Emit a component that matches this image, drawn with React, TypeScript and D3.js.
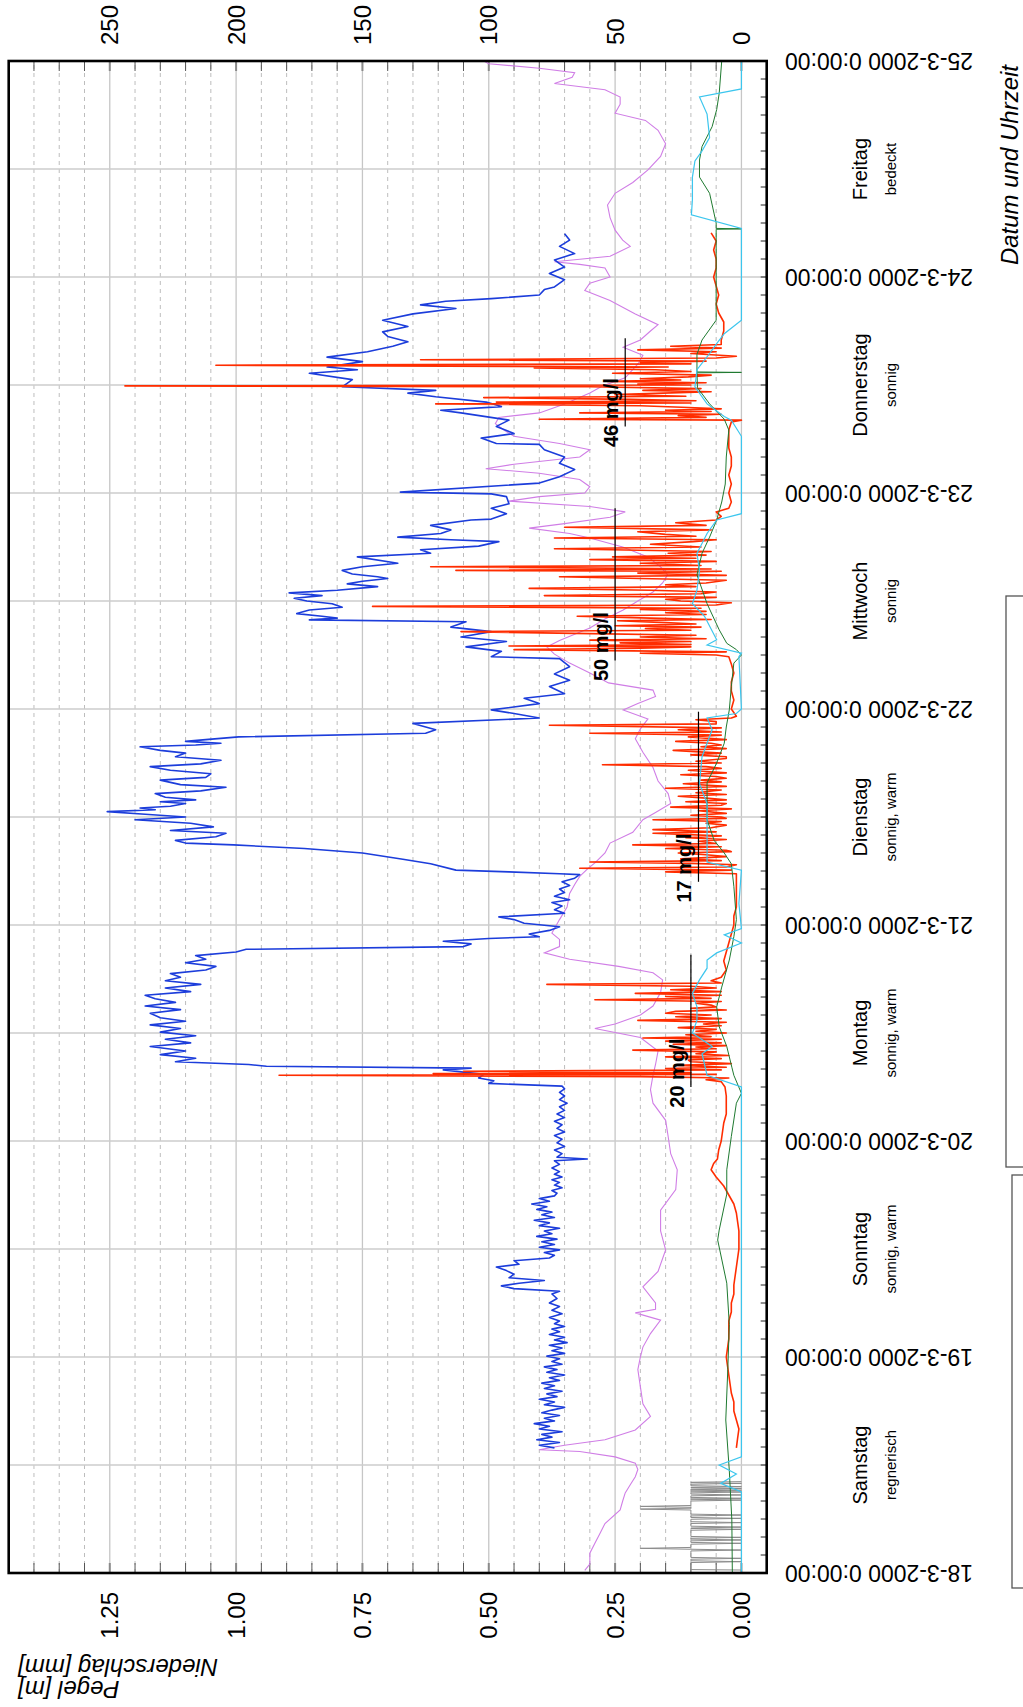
import React from "react";
import * as d3 from "d3";

// ---------- DATA (time in hours since 18-3-2000 0:00) ----------
const dateLabels = [
  "18-3-2000 0:00:00", "19-3-2000 0:00:00", "20-3-2000 0:00:00", "21-3-2000 0:00:00",
  "22-3-2000 0:00:00", "23-3-2000 0:00:00", "24-3-2000 0:00:00", "25-3-2000 0:00:00",
];
const dayNames = ["Samstag", "Sonntag", "Montag", "Dienstag", "Mittwoch", "Donnerstag", "Freitag"];
const dayWeather = ["regnerisch", "sonnig, warm", "sonnig, warm", "sonnig, warm", "sonnig", "sonnig", "bedeckt"];

const pegelTicks = [0, 0.25, 0.5, 0.75, 1.0, 1.25];
const pegelTickLabels = ["0.00", "0.25", "0.50", "0.75", "1.00", "1.25"];
const mglTicks = [0, 50, 100, 150, 200, 250];
const mglTickLabels = ["0", "50", "100", "150", "200", "250"];

// mean annotations (mg/l)
const annotValues = [20, 17, 50, 46];
const annotStart = [54.0, 76.8, 101.4, 127.4];
const annotEnd = [68.7, 95.7, 118.3, 137.2];

// Niederschlag [mm]
const rain: number[][] = [
  [0.33, 0], [0.38, 0.1], [1.16, 0.1], [1.26, 0], [1.36, 0.1], [1.53, 0.1], [1.63, 0], [1.73, 0.1],
  [2.45, 0.1], [2.55, 0], [2.64, 0.1], [2.74, 0.2], [2.84, 0.1], [3.2, 0.1], [3.3, 0], [3.4, 0.1],
  [3.57, 0.1], [3.67, 0], [3.77, 0.1], [3.86, 0.1], [3.96, 0], [4.06, 0.1], [4.75, 0.1], [4.85, 0],
  [4.95, 0.1], [5.0, 0.1], [5.1, 0], [5.2, 0.1], [5.5, 0.1], [5.6, 0], [5.7, 0.1], [5.97, 0.1],
  [6.07, 0], [6.17, 0.1], [6.34, 0.1], [6.44, 0], [6.54, 0.1], [7.0, 0.1], [7.1, 0.2], [7.2, 0.1],
  [7.3, 0.1], [7.4, 0.2], [7.5, 0.1], [8.0, 0.1], [8.1, 0], [8.2, 0.1], [8.22, 0.1], [8.3, 0],
  [8.4, 0.1], [8.57, 0.1], [8.67, 0], [8.77, 0.1], [8.9, 0.1], [9.0, 0], [9.1, 0.1], [9.12, 0.1],
  [9.2, 0], [9.3, 0.1], [9.32, 0.1], [9.4, 0], [9.5, 0.1], [9.52, 0.1], [9.6, 0], [9.7, 0.1],
  [9.86, 0.1], [9.96, 0], [10.04, 0.1], [10.08, 0.1], [10.15, 0],
];

// Pegel [m] (violet)
const pegel: number[][] = [
  [0.3, 0.31], [1.0, 0.30], [2.2, 0.30], [3.3, 0.29], [4.4, 0.28], [5.5, 0.27], [7.0, 0.24], [8.0, 0.235],
  [8.9, 0.23], [9.8, 0.22], [10.7, 0.21], [11.5, 0.205], [12.2, 0.21], [12.9, 0.25], [13.5, 0.32], [13.7, 0.40],
  [14.0, 0.37], [14.2, 0.35], [14.8, 0.27], [15.9, 0.21], [17.4, 0.18], [18.8, 0.195], [20.7, 0.20], [22.6, 0.205],
  [24.0, 0.20], [25.1, 0.195], [26.6, 0.18], [28.1, 0.16], [28.9, 0.21], [29.3, 0.17], [30.0, 0.17], [31.8, 0.195],
  [33.5, 0.165], [35.9, 0.15], [38.0, 0.16], [40.3, 0.16], [42.6, 0.13], [44.8, 0.127], [46.6, 0.14], [48.5, 0.145],
  [50.3, 0.15], [52.2, 0.175], [53.7, 0.18], [55.3, 0.175], [56.5, 0.17], [58.0, 0.165], [59.5, 0.20], [60.5, 0.29],
  [61.0, 0.25], [62.0, 0.20], [63.0, 0.175], [64.5, 0.16], [65.9, 0.156], [66.7, 0.175], [67.4, 0.243], [68.2, 0.34],
  [68.9, 0.39], [69.6, 0.36], [70.4, 0.36], [71.1, 0.375], [72.6, 0.36], [74.0, 0.345], [75.5, 0.34], [76.5, 0.33],
  [77.4, 0.32], [78.2, 0.305], [78.9, 0.29], [80.0, 0.27], [81.1, 0.26], [82.3, 0.215], [83.7, 0.195], [84.5, 0.17],
  [85.5, 0.14], [86.6, 0.145], [88.0, 0.165], [89.5, 0.175], [91.2, 0.195], [92.7, 0.21], [93.8, 0.20], [94.9, 0.185],
  [95.9, 0.234], [96.6, 0.205], [97.4, 0.17], [98.1, 0.175], [98.9, 0.263], [100.0, 0.30], [101.1, 0.34], [102.1, 0.37],
  [102.9, 0.385], [103.6, 0.36], [105.0, 0.30], [106.0, 0.27], [107.0, 0.234], [108.0, 0.205], [109.0, 0.175], [110.0, 0.156],
  [110.9, 0.146], [111.8, 0.16], [112.9, 0.185], [114.0, 0.235], [115.0, 0.30], [115.5, 0.34], [116.1, 0.42], [116.6, 0.35],
  [117.3, 0.26], [117.9, 0.23], [118.5, 0.30], [119.1, 0.46], [119.6, 0.40], [120.0, 0.31], [120.7, 0.30], [121.5, 0.32],
  [122.2, 0.40], [122.7, 0.506], [123.2, 0.45], [124.0, 0.32], [124.8, 0.30], [125.5, 0.36], [126.3, 0.45], [127.0, 0.47],
  [127.7, 0.487], [128.4, 0.48], [128.9, 0.40], [129.9, 0.35], [131.1, 0.30], [131.9, 0.275], [132.8, 0.23], [134.4, 0.204],
  [135.3, 0.195], [136.2, 0.234], [137.0, 0.20], [138.0, 0.18], [138.7, 0.165], [139.9, 0.21], [141.4, 0.26], [142.5, 0.31],
  [143.3, 0.30], [144.0, 0.26], [145.0, 0.27], [145.4, 0.32], [145.7, 0.37], [146.3, 0.26], [147.4, 0.22], [148.1, 0.235],
  [149.2, 0.25], [150.6, 0.26], [152.0, 0.265], [153.3, 0.25], [154.5, 0.215], [155.9, 0.185], [157.4, 0.16], [158.8, 0.15],
  [160.3, 0.165], [161.4, 0.19], [162.2, 0.25], [163.2, 0.24], [164.0, 0.24], [164.8, 0.27], [165.5, 0.37], [166.2, 0.335],
  [166.7, 0.33], [167.2, 0.40], [167.7, 0.50], [168.0, 0.51],
];

// green series [m]
const green: number[][] = [
  [0, 0.018], [5.9, 0.019], [11.4, 0.024], [17.0, 0.031], [22.6, 0.027], [27.6, 0.024], [32.2, 0.029], [37.0, 0.047],
  [38.1, 0.044], [42.1, 0.029], [44.8, 0.029], [48.5, 0.02], [52.2, 0.01], [53.3, 0.0], [55.3, 0.015], [56.2, 0.019],
  [58.5, 0.029], [60.7, 0.044], [62.9, 0.049], [65.1, 0.039], [68.1, 0.024], [70.7, 0.015], [72.6, 0.01], [76.3, 0.015],
  [78.8, 0.02], [80.0, 0.034], [81.4, 0.054], [83.7, 0.068], [85.5, 0.068], [87.8, 0.068], [90.0, 0.049], [92.2, 0.034],
  [94.0, 0.03], [95.9, 0.024], [98.5, 0.02], [101.1, 0.015], [102.0, 0.0], [102.6, 0.01], [103.3, 0.029], [104.8, 0.044],
  [107.7, 0.068], [110.9, 0.088], [113.3, 0.078], [115.1, 0.063], [117.0, 0.049], [119.0, 0.039], [121.0, 0.032], [124.0, 0.03],
  [127.0, 0.025], [128.2, 0.034], [129.9, 0.063], [131.7, 0.087], [133.35, 0.088], [133.4, 0.0], [133.45, 0.088], [135.4, 0.088],
  [137.0, 0.078], [139.2, 0.05], [144.0, 0.05], [149.3, 0.05], [149.35, 0.0], [149.4, 0.05], [150.0, 0.05], [153.3, 0.063],
  [155.1, 0.083], [157.0, 0.083], [158.5, 0.078], [160.7, 0.058], [162.6, 0.049], [164.4, 0.044], [168.0, 0.039],
];

// cyan series [m]
const cyan: number[][] = [
  [0, 0], [9.0, 0], [9.96, 0.041], [10.99, 0.01], [12.0, 0.044], [12.9, 0], [54.0, 0], [55.3, 0.068], [57.7, 0.078],
  [58.5, 0.058], [60.0, 0.097], [61.4, 0.088], [62.9, 0.088], [64.4, 0.097], [65.9, 0.083], [67.2, 0.068], [68.1, 0.068],
  [68.9, 0.049], [70.0, 0], [70.9, 0.034], [71.6, 0], [74.4, 0.005], [78.1, 0], [79.0, 0.068], [83.7, 0.068], [85.5, 0.068],
  [87.7, 0.083], [90.7, 0.078], [93.7, 0.058], [95.0, 0.068], [95.5, 0.01], [96.0, 0], [101.8, 0.005], [102.2, 0],
  [103.1, 0.068], [103.7, 0.049], [106.3, 0.073], [107.7, 0.097], [109.2, 0.088], [111.4, 0.083], [113.3, 0.088], [115.5, 0.068],
  [117.0, 0.049], [117.7, 0], [126.3, 0], [128.1, 0.02], [128.5, 0.034], [129.9, 0.068], [131.8, 0.092], [133.7, 0.088],
  [135.5, 0.063], [136.6, 0.049], [137.7, 0.034], [139.2, 0], [149.4, 0], [150.9, 0.099], [152.6, 0.097], [155.1, 0.097],
  [156.9, 0.092], [158.0, 0.078], [159.5, 0.063], [162.1, 0.068], [164.0, 0.083], [164.9, 0], [168.0, 0],
];

// blue series [mg/l scale]
const blue: number[][] = [
  [13.9, 74], [14.2, 80], [14.5, 72], [14.8, 81], [15.1, 75], [15.4, 79], [15.7, 71], [16.0, 80], [16.3, 76], [16.6, 82],
  [16.9, 74], [17.2, 78], [17.5, 72], [17.8, 79], [18.1, 75], [18.4, 70], [18.7, 78], [19.0, 74], [19.3, 80], [19.6, 73],
  [19.9, 77], [20.2, 71], [20.5, 78], [20.8, 74], [21.1, 79], [21.4, 72], [21.7, 76], [22.0, 70], [22.3, 77], [22.6, 73],
  [22.9, 78], [23.2, 71], [23.5, 75], [23.8, 72], [24.1, 77], [24.4, 70], [24.7, 75], [25.0, 71], [25.3, 76], [25.6, 69],
  [25.9, 74], [26.2, 70], [26.5, 76], [26.8, 72], [27.1, 75], [27.4, 70], [27.7, 74], [28.0, 72], [28.4, 76], [28.8, 71],
  [29.2, 75], [29.6, 72], [30.0, 76], [30.5, 73], [31.0, 75], [31.3, 72], [31.6, 90], [31.9, 95], [32.2, 88], [32.5, 78],
  [32.8, 92], [33.2, 90], [33.6, 93], [34.0, 97], [34.3, 88], [34.7, 90], [35.0, 76], [35.3, 74], [35.6, 78], [35.9, 72],
  [36.2, 80], [36.5, 74], [36.8, 79], [37.1, 73], [37.4, 81], [37.7, 75], [38.0, 78], [38.3, 72], [38.6, 80], [38.9, 76],
  [39.2, 82], [39.5, 74], [39.8, 79], [40.1, 75], [40.4, 81], [40.7, 77], [41.0, 83], [41.3, 76], [41.6, 80], [41.9, 74],
  [42.2, 73], [42.5, 75], [42.8, 71], [43.1, 74], [43.4, 72], [43.7, 75], [44.0, 71], [44.3, 74], [44.6, 72], [45.0, 75],
  [45.4, 72], [45.8, 74], [46.0, 61], [46.2, 73], [46.6, 71], [47.0, 74], [47.4, 70], [47.8, 73], [48.2, 71], [48.6, 74],
  [49.0, 70], [49.4, 73], [49.8, 71], [50.2, 74], [50.6, 70], [51.0, 73], [51.4, 70], [51.8, 72], [52.2, 69], [52.6, 72],
  [53.0, 70], [53.4, 72], [53.8, 70], [54.1, 71], [54.4, 100], [54.7, 98], [55.0, 104], [55.4, 102], [55.9, 118], [56.1, 107],
  [56.3, 188], [56.5, 195], [56.8, 224], [57.2, 216], [57.6, 230], [58.0, 220], [58.5, 234], [58.9, 218], [59.3, 228], [59.7, 216],
  [60.1, 230], [60.5, 222], [60.9, 234], [61.3, 220], [61.7, 230], [62.2, 234], [62.6, 222], [63.0, 236], [63.4, 224], [63.8, 232],
  [64.2, 236], [64.6, 218], [65.0, 228], [65.4, 214], [65.8, 228], [66.2, 222], [66.6, 226], [67.0, 212], [67.4, 208], [67.8, 220],
  [68.2, 212], [68.6, 216], [69.0, 200], [69.3, 196], [69.6, 110], [69.9, 107], [70.2, 118], [70.5, 100], [70.7, 80], [71.0, 84],
  [71.4, 76], [71.8, 72], [72.2, 86], [72.6, 90], [72.9, 96], [73.3, 70], [73.7, 74], [74.1, 71], [74.5, 75], [74.8, 68],
  [75.2, 74], [75.6, 70], [76.0, 72], [76.4, 68], [76.8, 71], [77.2, 66], [77.6, 64], [77.7, 72], [77.9, 92], [78.1, 113],
  [78.8, 123], [79.3, 134], [80.0, 150], [80.5, 173], [80.9, 201], [81.1, 220], [81.4, 224], [81.8, 208], [82.2, 204], [82.5, 226],
  [82.9, 209], [83.3, 218], [83.7, 240], [84.0, 220], [84.3, 236], [84.6, 251], [84.8, 232], [85.0, 238], [85.2, 226], [85.5, 220],
  [85.7, 230], [85.9, 216], [86.2, 228], [86.6, 232], [86.9, 214], [87.3, 204], [87.6, 222], [88.1, 230], [88.4, 212], [88.8, 210],
  [89.2, 226], [89.6, 234], [89.9, 214], [90.3, 206], [90.7, 224], [91.1, 220], [91.4, 230], [91.8, 238], [92.0, 216], [92.2, 206],
  [92.4, 220], [92.6, 212], [92.9, 199], [93.3, 125], [93.7, 121], [94.4, 130], [95.0, 80], [95.5, 90], [95.9, 99], [96.6, 80],
  [97.2, 86], [97.7, 70], [98.5, 76], [99.2, 68], [99.9, 74], [100.7, 68], [101.6, 72], [101.8, 99], [102.4, 95], [102.9, 109],
  [103.5, 93], [104.0, 111], [104.6, 99], [105.1, 115], [105.7, 109], [105.9, 171], [106.1, 160], [106.3, 166], [106.6, 176], [107.0, 171],
  [107.3, 158], [107.7, 162], [108.0, 172], [108.3, 177], [108.6, 166], [108.9, 179], [109.2, 160], [109.6, 144], [109.9, 156], [110.2, 150],
  [110.5, 140], [110.7, 144], [111.0, 154], [111.4, 158], [111.8, 150], [112.2, 136], [112.9, 152], [113.3, 123], [113.7, 127], [114.1, 104],
  [114.6, 96], [114.8, 115], [115.1, 136], [115.5, 119], [115.9, 115], [116.4, 123], [117.0, 107], [117.1, 99], [117.7, 93], [118.3, 99],
  [118.8, 92], [119.6, 93], [119.9, 99], [120.1, 135], [121.1, 80], [121.8, 72], [122.6, 66], [123.3, 72], [124.0, 70], [124.8, 78],
  [125.4, 80], [125.5, 97], [126.1, 103], [126.6, 90], [127.4, 97], [128.1, 92], [128.9, 111], [129.2, 119], [129.6, 95], [130.1, 101],
  [130.7, 121], [131.1, 132], [131.4, 121], [131.8, 158], [132.6, 154], [133.3, 171], [133.7, 152], [134.0, 164], [134.6, 150], [135.1, 164],
  [135.7, 148], [136.3, 138], [136.8, 132], [137.4, 140], [137.9, 142], [138.5, 132], [139.2, 142], [139.9, 130], [140.5, 113], [140.9, 127],
  [141.3, 117], [141.6, 99], [142.0, 80], [142.6, 78], [142.9, 74], [143.7, 70], [144.4, 76], [145.1, 70], [145.9, 74], [146.6, 66],
  [147.4, 72], [148.1, 68], [148.8, 70],
];

// red series [mg/l]
const red: number[][] = [
  [13.9, 2], [15, 1.5], [16, 1], [17, 2], [18, 3], [19, 3], [20, 4], [21, 4.5], [22, 5], [23, 5.5], [24, 6], [25, 5.5],
  [26, 5], [27, 5], [28, 5], [29, 4], [30, 4], [31, 3], [32, 3], [33, 2.5], [34, 2], [35, 1.5], [36, 1], [37, 1], [38, 1],
  [39, 1.5], [40, 2], [41, 3], [42, 5], [43, 7], [44, 10], [44.8, 12], [45.5, 11], [46, 9.5], [47, 9], [48, 8], [49, 7.5],
  [50, 7], [51, 6], [52, 6], [53, 6], [54, 6.5], [54.6, 8],
  [54.8, 14], [55.0, 5], [55.15, 40], [55.3, 183], [55.4, 10], [55.5, 122], [55.6, 20], [55.75, 110], [55.9, 8], [56.05, 30],
  [56.2, 6], [56.4, 25], [56.6, 4], [56.8, 20], [57.0, 21], [57.15, 8], [57.35, 30], [57.5, 5], [57.7, 18], [57.9, 10],
  [58.1, 43], [58.25, 10], [58.45, 18], [58.6, 6], [58.75, 27], [58.9, 8], [59.1, 30], [59.3, 8], [59.45, 39], [59.6, 12],
  [59.8, 22], [60.0, 6], [60.2, 18], [60.4, 10], [60.6, 25], [60.8, 8], [61.0, 15], [61.2, 6], [61.4, 41], [61.6, 8],
  [61.8, 26], [62.0, 12], [62.2, 30], [62.4, 26], [62.55, 6], [62.75, 20], [62.9, 10], [63.1, 12], [63.3, 18], [63.5, 8],
  [63.7, 58], [63.85, 12], [64.05, 30], [64.2, 8], [64.4, 42], [64.6, 8], [64.8, 28], [65.0, 10], [65.2, 20], [65.4, 77],
  [65.55, 8], [65.8, 12], [66.2, 8],
  [67, 6], [68, 7], [69, 6], [70, 5], [71, 4], [72, 3], [73, 3], [74, 2], [75, 2], [76, 2], [77, 2], [77.7, 2],
  [77.9, 30], [78.1, 4], [78.3, 64], [78.45, 6], [78.7, 2], [78.85, 20], [79.0, 60], [79.15, 8], [79.35, 24], [79.6, 6],
  [79.8, 14], [80.0, 25], [80.15, 4], [80.3, 6], [80.5, 30], [80.7, 8], [80.9, 43], [81.05, 10], [81.3, 17], [81.5, 6],
  [81.7, 22], [81.9, 8], [82.2, 35], [82.35, 10], [82.6, 35], [82.8, 12], [83.1, 6], [83.3, 14], [83.5, 8], [83.7, 35],
  [83.85, 6], [84.0, 8], [84.2, 20], [84.4, 6], [84.7, 17], [84.9, 4], [85.1, 28], [85.3, 8], [85.5, 6], [85.7, 22],
  [85.9, 6], [86.1, 14], [86.3, 25], [86.5, 6], [86.7, 18], [87.0, 8], [87.2, 30], [87.4, 6], [87.7, 23], [87.9, 8],
  [88.1, 16], [88.3, 6], [88.5, 10], [88.7, 24], [88.9, 6], [89.2, 21], [89.4, 8], [89.6, 14], [89.8, 55], [90.0, 8],
  [90.2, 18], [90.5, 6], [90.7, 6], [90.9, 20], [91.1, 8], [91.4, 27], [91.6, 6], [91.8, 16], [92.0, 8], [92.2, 12],
  [92.4, 26], [92.6, 6], [92.9, 21], [93.1, 8], [93.3, 60], [93.45, 8], [93.7, 25], [93.9, 8], [94.2, 76], [94.35, 10],
  [94.6, 10], [94.8, 18], [95.0, 4], [95.2, 2],
  [96, 4], [97, 3], [98, 4], [99, 4], [100, 3], [101, 4], [101.8, 5],
  [102.0, 10], [102.2, 40], [102.35, 6], [102.6, 90], [102.75, 40], [102.9, 20], [103.0, 92], [103.15, 20], [103.35, 48],
  [103.5, 20], [103.65, 60], [103.8, 14], [104.0, 40], [104.2, 18], [104.4, 66], [104.6, 111], [104.75, 20], [104.95, 38],
  [105.1, 16], [105.25, 50], [105.45, 18], [105.6, 30], [105.8, 49], [105.95, 12], [106.1, 36], [106.3, 65], [106.5, 14],
  [106.7, 30], [106.85, 14], [107.05, 40], [107.2, 16], [107.4, 146], [107.55, 10], [107.8, 4], [108.0, 24], [108.2, 30],
  [108.4, 10], [108.6, 78], [108.8, 16], [109.0, 10], [109.2, 36], [109.4, 84], [109.6, 18], [109.8, 30], [110.0, 14],
  [110.3, 6], [110.5, 40], [110.7, 72], [110.85, 6], [111.1, 41], [111.3, 8], [111.4, 113], [111.55, 12], [111.8, 123],
  [111.95, 16], [112.2, 40], [112.4, 10], [112.6, 60], [112.75, 18], [112.9, 51], [113.1, 14], [113.3, 29], [113.5, 12],
  [113.8, 74], [114.0, 16], [114.3, 36], [114.6, 19], [114.8, 10], [115.0, 74], [115.2, 18], [115.4, 30], [115.7, 41],
  [115.9, 12], [116.2, 70], [116.4, 14], [116.7, 26], [117.0, 10], [117.4, 8], [117.9, 10],
  [118.3, 5], [119, 4], [120, 5], [121, 4], [122, 5], [123, 4], [124, 4], [125, 5], [126, 5], [127, 5], [127.9, 4],
  [128.1, 0], [128.2, 80], [128.4, 14], [128.6, 25], [128.75, 8], [128.9, 64], [129.05, 12], [129.2, 30], [129.35, 8],
  [129.5, 21], [129.7, 40], [129.9, 121], [130.0, 20], [130.1, 97], [130.25, 18], [130.4, 44], [130.6, 102], [130.75, 22],
  [130.95, 50], [131.1, 31], [131.25, 12], [131.4, 39], [131.6, 16], [131.8, 60], [131.9, 244], [132.0, 20], [132.1, 41],
  [132.25, 14], [132.4, 53], [132.55, 24], [132.7, 40], [132.9, 21], [133.1, 12], [133.3, 51], [133.5, 20], [133.7, 34],
  [133.9, 82], [134.0, 29], [134.2, 208], [134.35, 20], [134.5, 40], [134.65, 14], [134.8, 127], [135.0, 10], [135.2, 2],
  [135.5, 20], [135.7, 10], [135.9, 41], [136.1, 8], [136.3, 28], [136.5, 8], [137.0, 8],
  [138.0, 7], [139.0, 7], [140, 9], [141, 10], [142, 9], [143, 10], [144, 11], [145, 10], [146, 10], [147, 11], [148, 10], [148.9, 12],
];

// ---------- CHART ----------
const FONT = "'Liberation Sans', Arial, Helvetica, sans-serif";

export default function App() {
  // chart is drawn in landscape coordinates, then rotated -90deg
  const OW = 1707;
  const x = d3.scaleLinear().domain([0, 168]).range([134, 1646]);
  const yL = d3.scaleLinear().domain([-0.05, 1.45]).range([766.7, 8.7]);
  const yR = d3.scaleLinear().domain([-10, 290]).range([766.7, 8.7]);
  const lineL = d3.line<number[]>().x((d) => x(d[0])).y((d) => yL(d[1]));
  const lineR = d3.line<number[]>().x((d) => x(d[0])).y((d) => yR(d[1]));

  const [x0, x1] = x.range();
  const [yb, yt] = yL.range();

  const minor = d3.range(1, 29).map((i) => i * 0.05).filter((_, i) => (i + 1) % 5 !== 0);
  const allTicks = d3.range(0, 29).map((i) => i * 0.05);
  const timeGrid = d3.range(12, 168, 12);
  const timeTicks = d3.range(2, 168, 2);

  return (
    <svg width={1023} height={1707} style={{ position: "absolute", left: 0, top: 0, background: "#fff" }}>
      <g transform={`translate(0,${OW}) rotate(-90)`} fontFamily={FONT}>
        {/* grid */}
        {minor.map((v, i) => (
          <line key={"mn" + i} x1={x0} x2={x1} y1={yL(v)} y2={yL(v)} stroke="#bdbdbd" strokeWidth={1} strokeDasharray="4,4" />
        ))}
        {pegelTicks.map((v, i) => (
          <line key={"mj" + i} x1={x0} x2={x1} y1={yL(v)} y2={yL(v)} stroke="#c6c6c6" strokeWidth={1.3} />
        ))}
        {timeGrid.map((t, i) => (
          <line key={"tg" + i} x1={x(t)} x2={x(t)} y1={yt} y2={yb} stroke="#cccccc" strokeWidth={1.3} />
        ))}

        {/* axis ticks */}
        {allTicks.map((v, i) => {
          const major = i % 5 === 0;
          return (
            <g key={"at" + i}>
              <line x1={x0} x2={x0 + 10} y1={yL(v)} y2={yL(v)} stroke={major ? "#8a8a8a" : "#555"} strokeWidth={major ? 2 : 1} />
              <line x1={x1} x2={x1 - 10} y1={yL(v)} y2={yL(v)} stroke={major ? "#8a8a8a" : "#555"} strokeWidth={major ? 2 : 1} />
            </g>
          );
        })}
        {timeTicks.map((t, i) => (
          <line key={"tt" + i} x1={x(t)} x2={x(t)} y1={yb} y2={yb - 6} stroke="#222" strokeWidth={1} />
        ))}

        {/* series */}
        <path d={lineL(rain) || ""} fill="none" stroke="#8c8c8c" strokeWidth={1} />
        <path d={lineL(pegel) || ""} fill="none" stroke="#d07ee6" strokeWidth={1.1} />
        <path d={lineR(blue) || ""} fill="none" stroke="#1c3ddb" strokeWidth={1.6} strokeLinejoin="round" />
        <path d={lineR(red) || ""} fill="none" stroke="#ff2d00" strokeWidth={1.6} strokeLinejoin="round" />
        <path d={lineL(green) || ""} fill="none" stroke="#1f7a30" strokeWidth={1} />
        <path d={lineL(cyan) || ""} fill="none" stroke="#3cc6ee" strokeWidth={1.2} />

        {/* mean annotations */}
        {annotValues.map((v, i) => (
          <g key={"an" + i}>
            <line x1={x(annotStart[i])} x2={x(annotEnd[i])} y1={yR(v)} y2={yR(v)} stroke="#000" strokeWidth={1.2} />
            <text x={x(annotStart[i] - 2.3)} y={yR(v) - 7} fontSize={20} fontWeight="bold" fill="#000">
              {v} mg/l
            </text>
          </g>
        ))}

        {/* frame */}
        <rect x={x0} y={yt} width={x1 - x0} height={yb - yt} fill="none" stroke="#000" strokeWidth={2.6} />

        {/* left axis labels (Pegel) */}
        {pegelTicks.map((v, i) => (
          <text key={"pl" + i} x={x0 - 19} y={yL(v)} dy="0.35em" textAnchor="end" fontSize={24} fill="#000">
            {pegelTickLabels[i]}
          </text>
        ))}
        {/* right axis labels (mg/l) */}
        {mglTicks.map((v, i) => (
          <text key={"ml" + i} x={x1 + 16} y={yR(v)} dy="0.35em" textAnchor="start" fontSize={24} fill="#000">
            {mglTickLabels[i]}
          </text>
        ))}

        {/* date labels */}
        {dateLabels.map((s, i) => (
          <text key={"dl" + i} transform={`translate(${x(i * 24)},785) rotate(-90)`} dy="0.35em" textAnchor="end" fontSize={23} fill="#000">
            {s}
          </text>
        ))}
        {/* day names */}
        {dayNames.map((s, i) => (
          <g key={"dn" + i}>
            <text x={x(12 + i * 24)} y={867} textAnchor="middle" fontSize={20} fill="#000">{s}</text>
            <text x={x(12 + i * 24)} y={896} textAnchor="middle" fontSize={15} fill="#000">{dayWeather[i]}</text>
          </g>
        ))}

        {/* axis titles */}
        <text x={1642} y={1018} textAnchor="end" fontSize={24} fontStyle="italic" fill="#000">Datum und Uhrzeit</text>
        <text transform="translate(48,18) rotate(-90)" textAnchor="end" fontSize={24} fontStyle="italic" fill="#000">Niederschlag [mm]</text>
        <text transform="translate(26,18) rotate(-90)" textAnchor="end" fontSize={24} fontStyle="italic" fill="#000">Pegel [m]</text>

        {/* cut-off boxes at the edge */}
        <rect x={540} y={1006} width={571} height={60} fill="none" stroke="#555" strokeWidth={1.3} />
        <rect x={119} y={1012} width={413} height={60} fill="none" stroke="#555" strokeWidth={1.3} />
      </g>
    </svg>
  );
}
